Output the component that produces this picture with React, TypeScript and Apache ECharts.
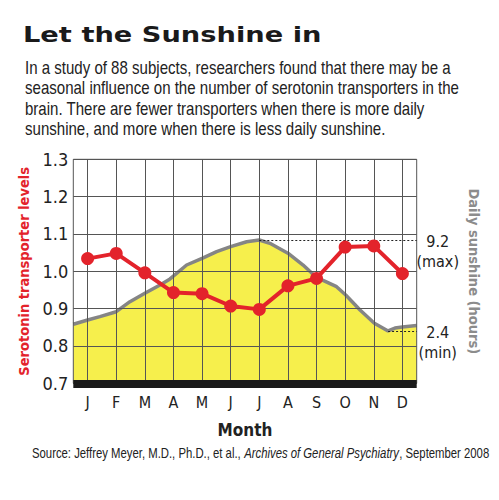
import React, { useEffect, useRef } from 'react';
import * as echarts from 'echarts';

const months = ['J', 'F', 'M', 'A', 'M', 'J', 'J', 'A', 'S', 'O', 'N', 'D'];
const serotonin = [1.034, 1.048, 0.996, 0.943, 0.94, 0.907, 0.898, 0.961, 0.981, 1.065, 1.068, 0.994];

// sunshine curve, x in month units (0 = start of Jan, 12 = end of Dec)
const sunX = [0, 0.5, 0.93, 1.5, 1.98, 2.5, 3.03, 3.38, 3.96, 4.5, 5.01, 5.5, 6.06, 6.5, 6.87, 7.5, 8.03, 8.5, 9.2, 9.52, 10.02, 10.52, 11.0, 11.24, 11.5, 12.0];
const sunHours = [2.9, 3.22, 3.47, 3.84, 4.59, 5.22, 5.84, 6.29, 7.33, 7.83, 8.33, 8.7, 9.07, 9.2, 8.95, 8.21, 7.33, 6.4, 5.71, 5.09, 3.97, 2.98, 2.4, 2.62, 2.7, 2.81];
const SUN_MAX = 9.2;
const SUN_MIN = 2.4;

const yTicks = { min: 0.7, max: 1.3, step: 0.1 };

const narrow = '"DejaVu Sans Condensed", "Liberation Sans", sans-serif';
const arial = '"Liberation Sans", Arial, sans-serif';

const App: React.FC = () => {
  const chartRef = useRef<HTMLDivElement>(null);

  useEffect(() => {
    if (!chartRef.current) return;
    const chart = echarts.init(chartRef.current, undefined, { renderer: 'svg' });

    const maxIdx = sunHours.indexOf(Math.max(...sunHours));
    const minIdx = sunHours.indexOf(Math.min(...sunHours));

    const option: echarts.EChartsOption = {
      animation: false,
      backgroundColor: '#fff',
      grid: {
        left: 73.3, right: 82.3, top: 159.3, bottom: 116.7,
        show: true, borderColor: '#555', borderWidth: 1, backgroundColor: 'transparent', z: 3,
      },
      graphic: [
        {
          type: 'text', x: 23, y: 23, scaleX: 1.24,
          style: { text: 'Let the Sunshine in', fontFamily: '"DejaVu Sans", sans-serif', fontWeight: 'bold', fontSize: 22, fill: '#1a1a1a', verticalAlign: 'top' },
        },
        {
          type: 'text', x: 25, y: 57, scaleX: 0.86,
          style: {
            text: 'In a study of 88 subjects, researchers found that there may be a\nseasonal influence on the number of serotonin transporters in the\nbrain. There are fewer transporters when there is more daily\nsunshine, and more when there is less daily sunshine.',
            fontFamily: arial, fontSize: 17.5, lineHeight: 20.5, fill: '#222', verticalAlign: 'top',
          },
        },
        {
          type: 'text', x: 32, y: 453, scaleX: 0.81,
          style: {
            text: 'Source: Jeffrey Meyer, M.D., Ph.D., et al., {i|Archives of General Psychiatry}, September 2008',
            fontFamily: arial, fontSize: 14, fill: '#222', verticalAlign: 'middle',
            rich: { i: { fontStyle: 'italic', fontFamily: arial, fontSize: 14, fill: '#222' } },
          },
        },
      ],
      xAxis: [
        {
          type: 'category', data: months, boundaryGap: true, z: 3,
          axisLine: { onZero: false, lineStyle: { color: '#1a1a1a', width: 8, cap: 'butt' } },
          axisTick: { show: false },
          splitLine: { show: false },
          axisLabel: { color: '#222', fontSize: 16, fontFamily: narrow, margin: 11 },
          name: 'Month', nameLocation: 'middle', nameGap: 38,
          nameTextStyle: { color: '#222', fontSize: 17, fontWeight: 'bold', fontFamily: narrow },
        },
        {
          type: 'value', min: 0, max: 12, interval: 0.5, z: 3,
          axisLine: { show: false }, axisTick: { show: false }, axisLabel: { show: false },
          splitLine: { show: true, lineStyle: { color: ['rgba(0,0,0,0)', '#555'], width: 1 } },
        },
      ],
      yAxis: [
        {
          type: 'value', min: yTicks.min, max: yTicks.max, interval: yTicks.step, z: 3,
          axisLine: { show: false }, axisTick: { show: false },
          axisLabel: { color: '#222', fontSize: 18, fontFamily: narrow, margin: 5, formatter: (v: number) => v.toFixed(1) },
          splitLine: { lineStyle: { color: '#555', width: 1 } },
          name: 'Serotonin transporter levels', nameLocation: 'middle', nameGap: 36,
          nameTextStyle: { color: '#e3232b', fontSize: 14.5, fontWeight: 'bold', fontFamily: narrow },
        },
        {
          type: 'value', min: -1.51, max: 15.23, position: 'right',
          axisLine: { show: false }, axisTick: { show: false }, axisLabel: { show: false }, splitLine: { show: false },
          name: 'Daily sunshine (hours)', nameLocation: 'middle', nameGap: 50, nameRotate: -90,
          nameTextStyle: { color: '#8c8c8c', fontSize: 14.5, fontWeight: 'bold', fontFamily: narrow },
        },
      ],
      series: [
        {
          name: 'Daily sunshine',
          type: 'line',
          xAxisIndex: 1,
          yAxisIndex: 1,
          data: sunX.map((x, i) => [x, sunHours[i]]),
          symbol: 'none',
          z: 2,
          lineStyle: { color: '#858585', width: 3.5 },
          areaStyle: { color: '#f6ef4c', opacity: 1, origin: 'start' },
          markLine: {
            silent: true,
            symbol: 'none',
            lineStyle: { color: '#222', type: [2, 2], width: 1 },
            label: {
              position: 'end', distance: 2, color: '#222', fontFamily: narrow, fontSize: 16, lineHeight: 20,
              padding: [23, 0, 0, 0], align: 'left',
              formatter: (p: any) => (p.data.name === 'max' ? `{a|${SUN_MAX}}\n{a|(max)}` : `{a|${SUN_MIN}}\n{a|(min)}`),
              rich: { a: { align: 'center', width: 38, fontFamily: narrow, fontSize: 16, lineHeight: 20, color: '#222' } },
            },
            data: [
              [{ name: 'max', coord: [sunX[maxIdx], SUN_MAX] }, { coord: [12, SUN_MAX] }],
              [{ name: 'min', coord: [sunX[minIdx], SUN_MIN] }, { coord: [12, SUN_MIN] }],
            ] as any,
          },
        },
        {
          name: 'Serotonin transporter levels',
          type: 'line',
          xAxisIndex: 0,
          yAxisIndex: 0,
          data: serotonin,
          z: 5,
          symbol: 'circle',
          symbolSize: 13,
          itemStyle: { color: '#e3232b' },
          lineStyle: { color: '#e3232b', width: 4 },
        },
      ],
    };

    chart.setOption(option);
    return () => chart.dispose();
  }, []);

  return <div ref={chartRef} style={{ position: 'fixed', left: 0, top: 0, width: 499, height: 500 }} />;
};

export default App;
